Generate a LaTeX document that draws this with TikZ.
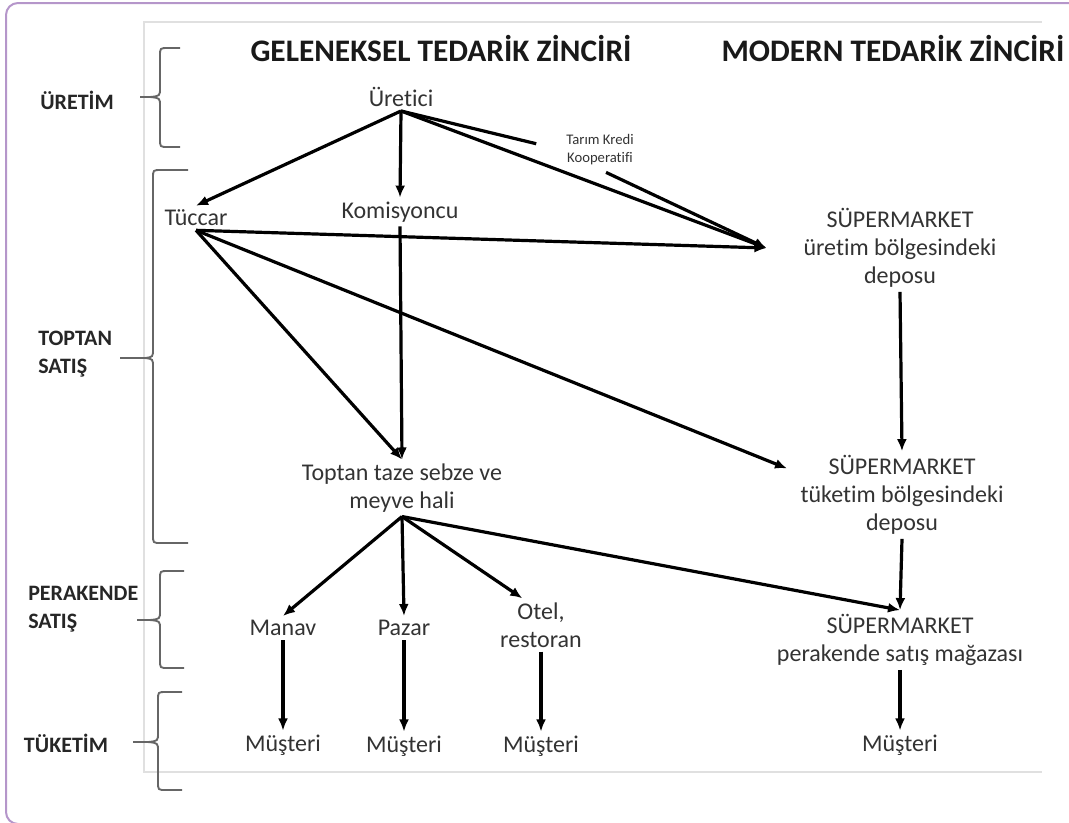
\documentclass[tikz,border=0pt]{standalone}
\usepackage{fontspec}
\setmainfont{Carlito}[Ligatures=NoCommon]
\usetikzlibrary{arrows.meta,positioning}
\definecolor{cerceve}{HTML}{B596CA}
\definecolor{metin}{HTML}{333333}

\begin{document}
\begin{tikzpicture}[x=0.75pt,y=-0.75pt,>={Latex[length=9pt,width=7.5pt]}]
		\tikzstyle{every node}=[inner sep=3pt]
		\tikzstyle{ok}=[->,black,line width=2.4pt]
		\tikzstyle{birim}=[text=metin,font=\fontsize{18}{21}\selectfont,align=center]
		\tikzstyle{asama}=[text=black!85,font=\bfseries\fontsize{16.5}{21}\selectfont,align=left]
		\tikzstyle{baslik}=[text=black!90,font=\bfseries\fontsize{23.5}{27}\selectfont]
		\tikzstyle{kume}=[draw=black!60,line width=1.4pt]
		\useasboundingbox (0,0) rectangle (1069,822);
		\draw[cerceve,line width=1.5pt,rounded corners=9pt] (6,3) rectangle (1090,824);
		\draw[black!12,line width=0.8pt] (1042,22) -- (144,22) -- (144,772) -- (1042,772);
		% basliklar
		\node[baslik]   (gelenek)     at (441,48)  {GELENEKSEL TEDARİK ZİNCİRİ};
		\node[baslik]   (modern)      at (893,48)  {MODERN TEDARİK ZİNCİRİ};
		% asamalar
		\node[asama]    (uretim)      at (77,100)  {ÜRETİM};
		\node[asama,anchor=west] (toptan)    at (34,354)  {TOPTAN\\SATIŞ};
		\node[asama,anchor=west] (perakende) at (24,609)  {PERAKENDE\\SATIŞ};
		\node[asama]    (tuketim)     at (66,743)  {TÜKETİM};
		\draw[kume] (180,48) -- (168,48) .. controls (160,48) .. (160,56) -- (160,88) .. controls (160,96) .. (150,97) .. controls (160,98) .. (160,106) -- (160,139) .. controls (160,147) .. (168,147) -- (180,147);
		\draw[kume] (140,97) -- (150,97);
		\draw[kume] (188,170) -- (161,170) .. controls (153,170) .. (153,178) -- (153,349) .. controls (153,357) .. (145,358) .. controls (153,359) .. (153,367) -- (153,535) .. controls (153,543) .. (161,543) -- (188,543);
		\draw[kume] (120,358) -- (145,358);
		\draw[kume] (184,571) -- (168,571) .. controls (160,571) .. (160,579) -- (160,611) .. controls (160,619) .. (150,620) .. controls (160,621) .. (160,629) -- (160,660) .. controls (160,668) .. (168,668) -- (184,668);
		\draw[kume] (137,620) -- (150,620);
		\draw[kume] (182,692) -- (166,692) .. controls (158,692) .. (158,700) -- (158,733) .. controls (158,741) .. (148,742) .. controls (158,743) .. (158,751) -- (158,782) .. controls (158,790) .. (166,790) -- (182,790);
		\draw[kume] (133,742) -- (148,742);
		% geleneksel zincir
		\node[birim]    (uretici)     at (401,97)  {Üretici};
		\node[birim]    (tuccar)      at (196,218) {Tüccar};
		\node[birim]    (komisyoncu)  at (400,212) {Komisyoncu};
		\node[birim,font=\fontsize{11}{13.5}\selectfont] (koop) at (600,150) {Tarım Kredi\\Kooperatifi};
		\node[birim]    (hal)         at (402,488) {Toptan taze sebze ve\\meyve hali};
		\node[birim]    (manav)       at (283,628) {Manav};
		\node[birim]    (pazar)       at (404,628) {Pazar};
		\node[birim]    (otel)        at (541,625) {Otel,\\restoran};
		\node[birim]    (musteri1)    at (283,745) {Müşteri};
		\node[birim]    (musteri2)    at (404,746) {Müşteri};
		\node[birim]    (musteri3)    at (541,746) {Müşteri};
		% modern zincir
		\node[birim,minimum width=200pt] (uretimdepo)  at (900,248) {SÜPERMARKET\\üretim bölgesindeki\\deposu};
		\node[birim,minimum width=172pt] (tuketimdepo) at (902,495) {SÜPERMARKET\\tüketim bölgesindeki\\deposu};
		\node[birim]    (magaza)      at (900,640) {SÜPERMARKET\\perakende satış mağazası};
		\node[birim]    (musteri4)    at (900,745) {Müşteri};
		\path[ok]
		(uretici.south) edge (tuccar.north)
		(uretici.south) edge (komisyoncu.north)
		(uretici.south) edge (uretimdepo.west)
		(tuccar.south) edge (uretimdepo.west)
		(tuccar.south) edge (hal.north)
		(tuccar.south) edge (tuketimdepo.167)
		(komisyoncu.south) edge (hal.north)
		(uretimdepo.south) edge (tuketimdepo.north)
		(hal.south) edge (manav.north)
		(hal.south) edge (pazar.north)
		(hal.south) edge (otel.125)
		(hal.south) edge (magaza.north)
		(tuketimdepo.south) edge (magaza.north)
		(manav.south) edge (musteri1.north)
		(pazar.south) edge (musteri2.north)
		(otel.south) edge (musteri3.north)
		(magaza.south) edge (musteri4.north);
		\draw[ok,-,shorten >=20pt] (uretici.south) -- (koop.west);
		\draw[ok,shorten <=5pt] (koop.south) -- (uretimdepo.west);
	\end{tikzpicture}
\end{document}
